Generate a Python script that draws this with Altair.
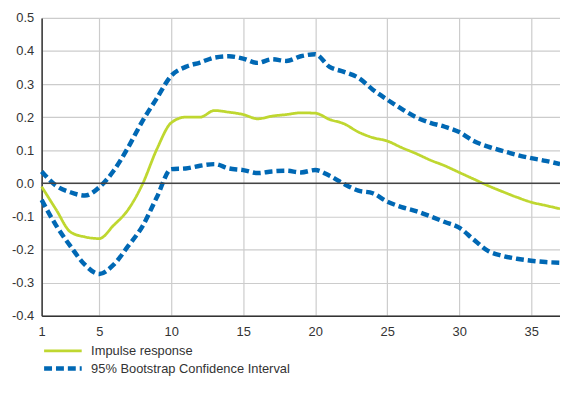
import altair as alt
import pandas as pd

periods = list(range(1, 38))
impulse = [-0.01, -0.079, -0.147, -0.162, -0.167, -0.127, -0.08, -0.003, 0.103, 0.183,
           0.2, 0.2, 0.22, 0.215, 0.208, 0.195, 0.203, 0.208, 0.213, 0.212,
           0.193, 0.18, 0.155, 0.138, 0.128, 0.108, 0.09, 0.07, 0.053, 0.033,
           0.013, -0.007, -0.025, -0.042, -0.057, -0.067, -0.077]
upper = [0.036, -0.007, -0.027, -0.037, -0.012, 0.038, 0.108, 0.188, 0.257, 0.325,
         0.352, 0.365, 0.38, 0.384, 0.377, 0.364, 0.375, 0.37, 0.384, 0.39,
         0.352, 0.337, 0.319, 0.283, 0.253, 0.225, 0.2, 0.183, 0.171, 0.155,
         0.128, 0.111, 0.098, 0.086, 0.076, 0.068, 0.058]
lower = [-0.05, -0.127, -0.19, -0.246, -0.274, -0.246, -0.19, -0.13, -0.042, 0.043,
         0.045, 0.053, 0.058, 0.045, 0.04, 0.031, 0.036, 0.038, 0.033, 0.04,
         0.023, -0.002, -0.022, -0.03, -0.055, -0.072, -0.084, -0.1, -0.117, -0.134,
         -0.17, -0.204, -0.219, -0.228, -0.234, -0.238, -0.24]

S1 = "Impulse response"
S2 = "95% Bootstrap Confidence Interval"
x_ticks = [1, 5, 10, 15, 20, 25, 30, 35]
y_ticks = [-0.4, -0.3, -0.2, -0.1, 0.0, 0.1, 0.2, 0.3, 0.4, 0.5]

rows = []
for p, v in zip(periods, impulse):
    rows.append({"t": p, "v": v, "series": S1, "band": "ir"})
for p, v in zip(periods, upper):
    rows.append({"t": p, "v": v, "series": S2, "band": "up"})
for p, v in zip(periods, lower):
    rows.append({"t": p, "v": v, "series": S2, "band": "lo"})
df = pd.DataFrame(rows)

FONT = "Liberation Sans"

xs = alt.Scale(domain=[1, 37], nice=False, zero=False)
ys = alt.Scale(domain=[-0.4, 0.5], nice=False)

x_axis = alt.Axis(values=x_ticks, title=None, grid=True,
                  gridColor="#cccccc", gridWidth=1.2,
                  domainColor="#333333", domainWidth=1.5,
                  ticks=False, labelPadding=10, labelFlush=False)
y_axis = alt.Axis(values=y_ticks, title=None, grid=True,
                  gridColor="#cccccc", gridWidth=1.2,
                  domainColor="#333333", domainWidth=1.5,
                  ticks=False, labelPadding=8, labelOverlap=False,
                  labelExpr="replace(format(datum.value, '.1f'), '\u2212', '-')")


def leg():
    return alt.Legend(title=None, orient="none", legendX=14, legendY=330,
                      symbolType="M-3.8,0H3.8", symbolSize=100,
                      labelFontSize=13, labelFont=FONT, labelColor="#333333",
                      labelLimit=400, rowPadding=1, labelOffset=21)


lines = alt.Chart(df).mark_line(interpolate="monotone").encode(
    x=alt.X("t:Q", scale=xs, axis=x_axis),
    y=alt.Y("v:Q", scale=ys, axis=y_axis),
    color=alt.Color("series:N", scale=alt.Scale(domain=[S1, S2], range=["#bfd730", "#0068b4"]),
                    legend=leg()),
    strokeDash=alt.StrokeDash("series:N", scale=alt.Scale(domain=[S1, S2], range=[[1, 0], [8, 4]]),
                              legend=leg()),
    strokeWidth=alt.StrokeWidth("series:N", scale=alt.Scale(domain=[S1, S2], range=[2.8, 4.5]),
                                legend=leg()),
    detail="band:N",
)

zero = alt.Chart(pd.DataFrame({"z": [0.0]})).mark_rule(color="#444444", strokeWidth=1.5).encode(
    y=alt.Y("z:Q", scale=ys, axis=y_axis)
)

chart = alt.layer(lines, zero).properties(
    width=524, height=301,
    autosize=alt.AutoSizeParams(type="none"),
    padding={"left": 34, "top": 8, "right": 0, "bottom": 60},
).configure_axis(
    labelFont=FONT, labelFontSize=13, labelColor="#333333"
).configure_view(stroke=None)

chart.save("out.html", embed_options={"renderer": "svg", "actions": False})
